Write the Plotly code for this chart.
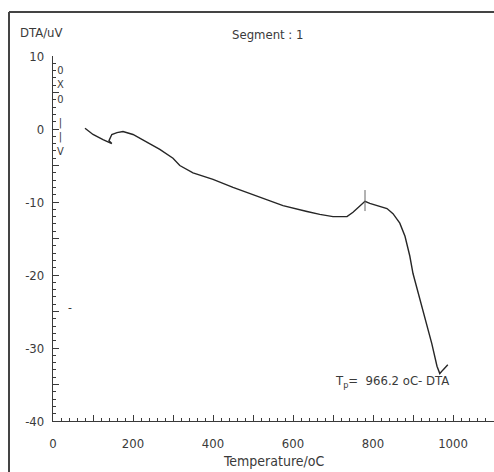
import plotly.graph_objects as go

# ---- data ----
temperature = [80, 100, 125, 147, 140, 147, 160, 175, 200, 235, 267, 300, 317, 350,
               400, 450, 510, 575, 635, 667, 700, 735, 750, 767, 780, 792, 810, 835,
               850, 867, 880, 892, 900, 917, 935, 947, 960, 967, 975, 987]
dta_uv = [0.1, -0.75, -1.45, -2.0, -1.6, -0.75, -0.5, -0.35, -0.75, -1.85, -2.8, -4.0, -5.0, -6.0,
          -6.9, -8.0, -9.2, -10.5, -11.3, -11.7, -12.0, -12.0, -11.4, -10.5, -9.9, -10.2, -10.5, -10.9,
          -11.6, -12.9, -14.7, -17.4, -19.8, -23.3, -26.7, -29.4, -32.5, -33.5, -33.0, -32.3]
peak_temperature = [780]
peak_value = [-9.8]

x_tickvals = [0, 100, 200, 300, 400, 500, 600, 700, 800, 900, 1000, 1100]
x_ticktext = ["0", "", "200", "", "400", "", "600", "", "800", "", "1000", ""]
y_tickvals = [-40, -35, -30, -25, -20, -15, -10, -5, 0, 5, 10]
y_ticktext = ["-40", "", "-30", "", "-20", "", "-10", "", "0", "", "10"]

# ---- layout geometry (pixels) ----
W, H = 494, 472
L, R, T, B = 53, 494, 56, 421
INK = "#3a3a3a"
FONT = "Liberation Sans Narrow, DejaVu Sans Condensed, DejaVu Sans, sans-serif"


def px(x):
    return (x - L) / (R - L)


def py(y):
    return (B - y) / (B - T)


fig = go.Figure()
fig.add_trace(go.Scatter(x=temperature, y=dta_uv, mode="lines",
                         line=dict(color="#262626", width=1.4),
                         showlegend=False, hoverinfo="skip"))
fig.add_trace(go.Scatter(x=peak_temperature, y=peak_value, mode="markers",
                         marker=dict(symbol="line-ns-open", size=15, color="#666666",
                                     line=dict(color="#666666", width=1)),
                         showlegend=False, hoverinfo="skip"))

tickfont = dict(family=FONT, size=13, color=INK)

fig.update_xaxes(range=[0, 1102.5], tickvals=x_tickvals, ticktext=x_ticktext,
                 ticks="inside", ticklen=6, tickwidth=1, tickcolor=INK,
                 minor=dict(dtick=20, tick0=0, ticks="inside", ticklen=3,
                            tickwidth=1, tickcolor=INK),
                 showline=True, linecolor=INK, linewidth=1.3,
                 showgrid=False, zeroline=False, tickfont=tickfont,
                 ticklabelstandoff=10)
fig.update_yaxes(range=[-40, 10], tickvals=y_tickvals, ticktext=y_ticktext,
                 ticks="inside", ticklen=6, tickwidth=1, tickcolor=INK,
                 minor=dict(dtick=1, tick0=0, ticks="inside", ticklen=3,
                            tickwidth=1, tickcolor=INK),
                 showline=True, linecolor=INK, linewidth=1.3,
                 showgrid=False, zeroline=False, tickfont=tickfont,
                 ticklabelstandoff=5)

ann = []


def text(x, y, s, size=13, xanchor="center"):
    ann.append(dict(x=px(x), y=py(y), xref="paper", yref="paper", text=s,
                    showarrow=False, xanchor=xanchor, yanchor="middle",
                    font=dict(family=FONT, size=size, color=INK)))


text(41, 33, "DTA/uV")
text(267, 35, "Segment : 1")
text(60, 85, "0<br>X<br>0", size=11)
text(60, 137, "|<br>|<br>V", size=11)
text(392, 381, "T<sub>p</sub>=  966.2 oC- DTA", size=13)
text(273, 461, "Temperature/oC", size=14)
text(70, 308, "-", size=12)

shapes = [
    dict(type="line", xref="paper", yref="paper", x0=px(9), x1=px(9),
         y0=py(12), y1=py(472), line=dict(color="#444444", width=2)),
    dict(type="line", xref="paper", yref="paper", x0=px(9), x1=px(494),
         y0=py(12), y1=py(12), line=dict(color="#444444", width=2)),
]

fig.update_layout(width=W, height=H,
                  margin=dict(l=L, r=W - R, t=T, b=H - B, pad=0),
                  paper_bgcolor="white", plot_bgcolor="white",
                  annotations=ann, shapes=shapes, showlegend=False)

fig.write_html("out.html")
